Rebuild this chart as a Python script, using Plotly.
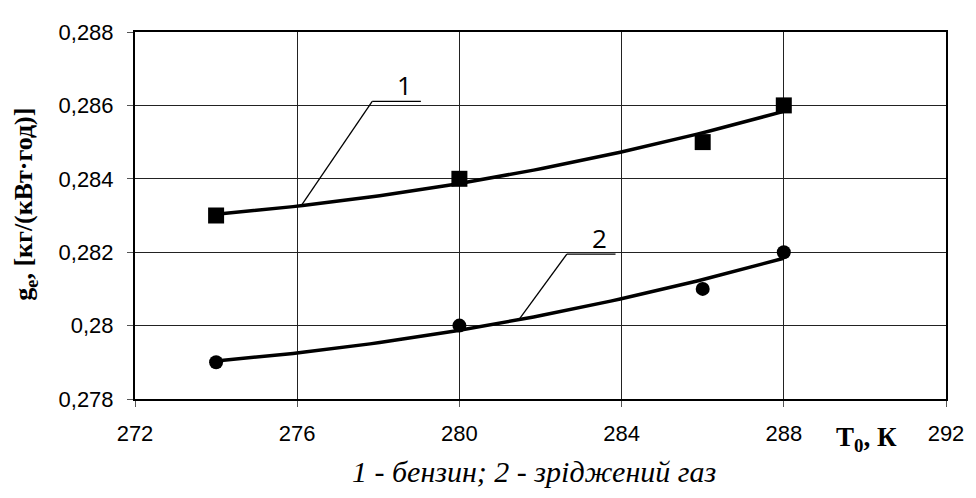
import numpy as np
import plotly.graph_objects as go

# Data
temps = [274, 280, 286, 288]
benzin = [0.283, 0.284, 0.285, 0.286]      # 1 - бензин
gas = [0.279, 0.280, 0.281, 0.282]         # 2 - зріджений газ

x_ticks = [272, 276, 280, 284, 288, 292]
y_ticks = [0.278, 0.280, 0.282, 0.284, 0.286, 0.288]
y_ticktext = ["0,278", "0,28", "0,282", "0,284", "0,286", "0,288"]

# Trend lines (2nd-order polynomial fit, as in the source spreadsheet)
xs = np.linspace(min(temps), max(temps), 60)
fit1 = np.polyval(np.polyfit(temps, benzin, 2), xs)
fit2 = np.polyval(np.polyfit(temps, gas, 2), xs)

fig = go.Figure()
fig.add_trace(go.Scatter(x=xs, y=fit1, mode="lines", line=dict(color="black", width=3.5),
                         showlegend=False, hoverinfo="skip"))
fig.add_trace(go.Scatter(x=xs, y=fit2, mode="lines", line=dict(color="black", width=3.5),
                         showlegend=False, hoverinfo="skip"))
fig.add_trace(go.Scatter(x=temps, y=benzin, mode="markers",
                         marker=dict(symbol="square", size=16, color="black"), showlegend=False))
fig.add_trace(go.Scatter(x=temps, y=gas, mode="markers",
                         marker=dict(symbol="circle", size=14, color="black"), showlegend=False))

# Leader lines for labels
leader = dict(color="black", width=1.3)
fig.add_shape(type="line", xref="x", yref="y", x0=276.1, y0=fit1[np.argmin(abs(xs-276.1))], x1=277.85, y1=0.28611, line=leader)
fig.add_shape(type="line", xref="x", yref="y", x0=277.85, y0=0.28611, x1=279.05, y1=0.28611, line=leader)
fig.add_shape(type="line", xref="x", yref="y", x0=281.45, y0=fit2[np.argmin(abs(xs-281.45))], x1=282.65, y1=0.28195, line=leader)
fig.add_shape(type="line", xref="x", yref="y", x0=282.65, y0=0.28195, x1=283.85, y1=0.28195, line=leader)

fig.add_annotation(x=278.65, y=0.28611, xref="x", yref="y", text="1", showarrow=False,
                   yanchor="bottom", yshift=-4, font=dict(family="Open Sans", size=26, color="black"))
fig.add_annotation(x=283.45, y=0.28195, xref="x", yref="y", text="2", showarrow=False,
                   yanchor="bottom", yshift=-4, font=dict(family="Open Sans", size=26, color="black"))

# Axis titles and caption
fig.add_annotation(text="<b>g<sub>e</sub>, [кг/(кВт·год)]</b>", x=-0.135, y=0.531, xref="paper", yref="paper",
                   xanchor="center", yanchor="middle", showarrow=False, textangle=-90,
                   font=dict(family="Liberation Serif", size=26, color="black"))
fig.add_annotation(text="<b>T<sub>0</sub>, К</b>", x=0.902, y=-0.109, xref="paper", yref="paper",
                   xanchor="center", yanchor="middle",
                   showarrow=False, font=dict(family="Liberation Serif", size=27, color="black"))
fig.add_annotation(text="<i>1 - бензин; 2 - зріджений газ</i>", x=0.492, y=-0.198, xref="paper", yref="paper",
                   xanchor="center", yanchor="middle",
                   showarrow=False, font=dict(family="Liberation Serif", size=30, color="black"))

fig.update_layout(
    width=968, height=482,
    margin=dict(l=127, r=26, t=16, b=91),
    paper_bgcolor="white", plot_bgcolor="white",
    xaxis=dict(range=[272, 292], tickvals=x_ticks, showgrid=True, gridcolor="#222", gridwidth=1,
               showline=True, linecolor="black", linewidth=2, mirror=True,
               ticks="outside", ticklen=6, tickcolor="#555", zeroline=False, ticklabelstandoff=8,
               tickfont=dict(family="Liberation Sans", size=22, color="black")),
    yaxis=dict(range=[0.278, 0.288], tickvals=y_ticks, ticktext=y_ticktext, showgrid=True,
               gridcolor="#222", gridwidth=1, showline=True, linecolor="black", linewidth=2, mirror=True,
               ticks="outside", ticklen=6, tickcolor="#555", zeroline=False, ticklabelstandoff=9,
               tickfont=dict(family="Liberation Sans", size=22, color="black")),
)

fig.write_html("out.html")
